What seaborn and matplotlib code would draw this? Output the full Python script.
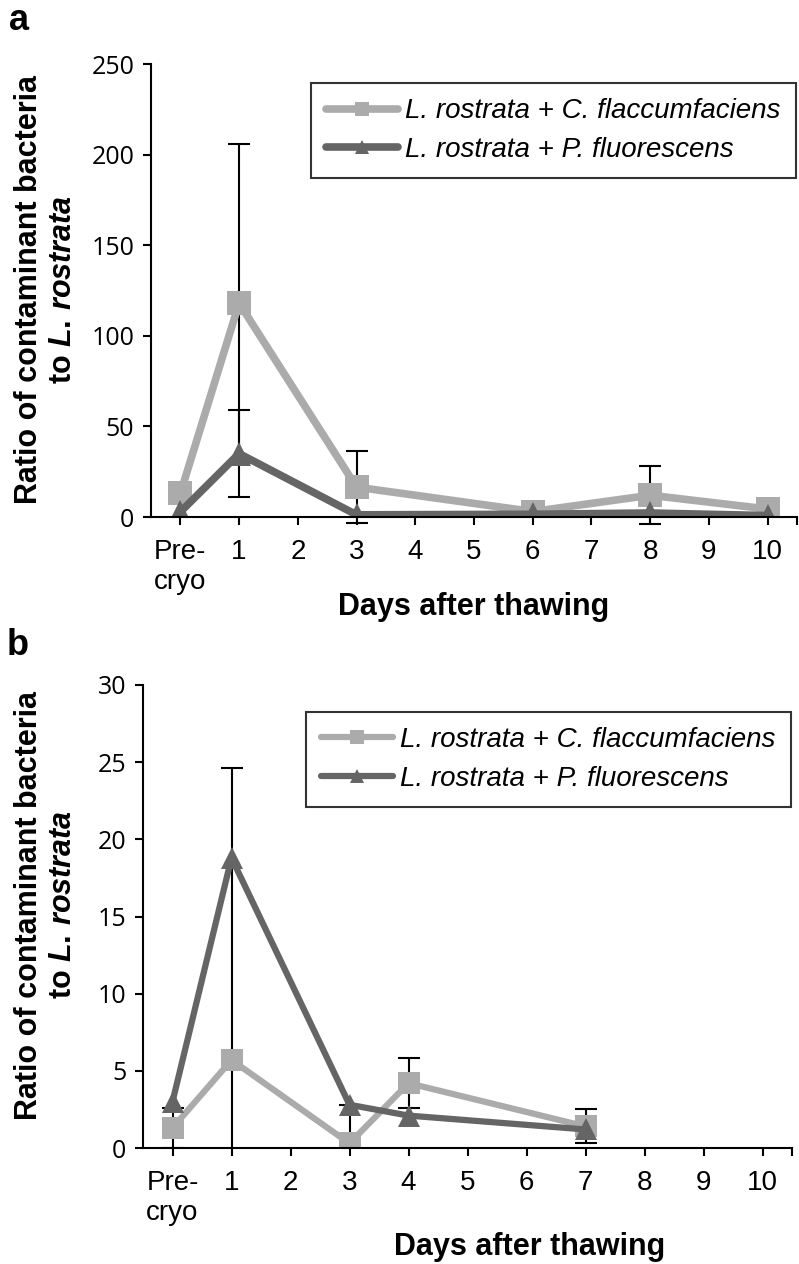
import numpy as np
import pandas as pd
import matplotlib.pyplot as plt
from matplotlib.lines import Line2D
import seaborn as sns

# === DATA ===
DAY_LABELS = ['Pre-\ncryo', '1', '2', '3', '4', '5', '6', '7', '8', '9', '10']
SERIES = ['L. rostrata + C. flaccumfaciens', 'L. rostrata + P. fluorescens']

# panel a
A_DAYS = [0, 1, 3, 6, 8, 10]
A_CFLAC = [13, 118, 16.5, 3, 12, 4.4]
A_CFLAC_ERR = [0, 88, 20, 0, 16, 0]
A_PFLUO = [2.8, 35, 1.2, 1.5, 2.2, 0.8]
A_PFLUO_ERR = [0, 24, 0, 0, 0, 0]

# panel b
B_DAYS = [0, 1, 3, 4, 7]
B_CFLAC = [1.3, 5.7, 0.3, 4.2, 1.4]
B_CFLAC_ERR = [1.3, 18.9, 2.5, 1.6, 1.1]
B_PFLUO = [3.0, 18.8, 2.8, 2.1, 1.2]
B_PFLUO_ERR = [0, 0, 0, 0, 0]

LIGHT = '#ababab'
DARK = '#656565'

sns.set_style('ticks')
plt.rcParams['font.family'] = ['Liberation Sans', 'DejaVu Sans']
plt.rcParams['mathtext.fontset'] = 'custom'
plt.rcParams['mathtext.it'] = 'Liberation Sans:italic:bold'
plt.rcParams['mathtext.rm'] = 'Liberation Sans:bold'
for k in ['text.color', 'axes.labelcolor', 'xtick.color', 'ytick.color',
          'axes.edgecolor']:
    plt.rcParams[k] = 'black'

fig = plt.figure(figsize=(7.99, 12.64), dpi=100)
W, H = 799, 1264
ax_a = fig.add_axes([151 / W, 1 - 517 / H, 646 / W, 453 / H])
ax_b = fig.add_axes([143 / W, 1 - 1148 / H, 649 / W, 463 / H])


def draw_panel(ax, days, c, c_err, p, p_err, ymax, ystep, lw, ms, clip,
               leg_y, leg_size):
    df = pd.DataFrame({
        'day': list(days) * 2,
        'ratio': list(c) + list(p),
        'series': [SERIES[0]] * len(days) + [SERIES[1]] * len(days),
    })
    sns.lineplot(data=df, x='day', y='ratio', hue='series', style='series',
                 palette={SERIES[0]: LIGHT, SERIES[1]: DARK},
                 markers={SERIES[0]: 's', SERIES[1]: '^'}, dashes=False,
                 legend=False, sort=False, errorbar=None, ax=ax,
                 linewidth=lw, markersize=ms, markeredgewidth=0)

    # error bars (only where there is one)
    for vals, errs in [(c, c_err), (p, p_err)]:
        pts = [(d, v, e) for d, v, e in zip(days, vals, errs) if e > 0]
        if pts:
            xs, ys, es = zip(*pts)
            ax.errorbar(xs, ys, yerr=es, fmt='none', ecolor='black',
                        elinewidth=1.5, capsize=8, capthick=1.5,
                        zorder=1.5, clip_on=clip)

    ax.set_xlim(-0.5, 10.5)
    ax.set_ylim(0, ymax)
    ax.set_xticks(range(11))
    ax.set_xticklabels(DAY_LABELS, fontsize=20)
    ax.set_xticks([10.5], minor=True)
    ax.set_yticks(np.arange(0, ymax + 1, ystep))
    ax.set_yticklabels([str(int(v)) for v in np.arange(0, ymax + 1, ystep)],
                       fontsize=18, family='Open Sans')
    ax.set_xlabel('')
    ax.set_ylabel('')
    ax.tick_params(axis='both', which='both', direction='out', length=6,
                   width=1.5, color='black')
    ax.tick_params(axis='x', pad=10)
    ax.tick_params(axis='y', pad=6)
    sns.despine(ax=ax)
    for s in ['left', 'bottom']:
        ax.spines[s].set_linewidth(1.5)
        ax.spines[s].set_color('black')

    handles = [
        Line2D([], [], color=LIGHT, lw=lw, marker='s', markersize=ms * 0.6,
               markeredgewidth=0, solid_capstyle='round'),
        Line2D([], [], color=DARK, lw=lw, marker='^', markersize=ms * 0.6,
               markeredgewidth=0, solid_capstyle='round'),
    ]
    leg = ax.legend(handles, SERIES, loc='upper right',
                    bbox_to_anchor=(0.998, leg_y), frameon=True,
                    fancybox=False, edgecolor='black', handlelength=2.6,
                    handletextpad=0.25, borderpad=0.55, labelspacing=0.45,
                    borderaxespad=0,
                    prop={'family': 'Liberation Sans', 'style': 'italic',
                          'size': leg_size})
    leg.get_frame().set_linewidth(1.5)


draw_panel(ax_a, A_DAYS, A_CFLAC, A_CFLAC_ERR, A_PFLUO, A_PFLUO_ERR,
           250, 50, 5.5, 17, False, 0.958, 20)
draw_panel(ax_b, B_DAYS, B_CFLAC, B_CFLAC_ERR, B_PFLUO, B_PFLUO_ERR,
           30, 5, 4.5, 16, True, 0.942, 20)

ylab = 'Ratio of contaminant bacteria\nto $\\mathit{L.\\,rostrata}$'
fig.text(46 / W, 1 - 290 / H, ylab, rotation=90, ha='center', va='center',
         multialignment='center', fontsize=22, fontweight='bold')
fig.text(46 / W, 1 - 905 / H, ylab, rotation=90, ha='center', va='center',
         multialignment='center', fontsize=22, fontweight='bold')

fig.text(474 / W, 1 - 607 / H, 'Days after thawing', ha='center',
         va='center', fontsize=22, fontweight='bold')
fig.text(530 / W, 1 - 1247 / H, 'Days after thawing', ha='center',
         va='center', fontsize=22, fontweight='bold')

fig.text(19 / W, 1 - 20 / H, 'a', ha='center', va='center', fontsize=26,
         fontweight='bold')
fig.text(18 / W, 1 - 645 / H, 'b', ha='center', va='center', fontsize=26,
         fontweight='bold')

fig.savefig('out.png', dpi=100)
